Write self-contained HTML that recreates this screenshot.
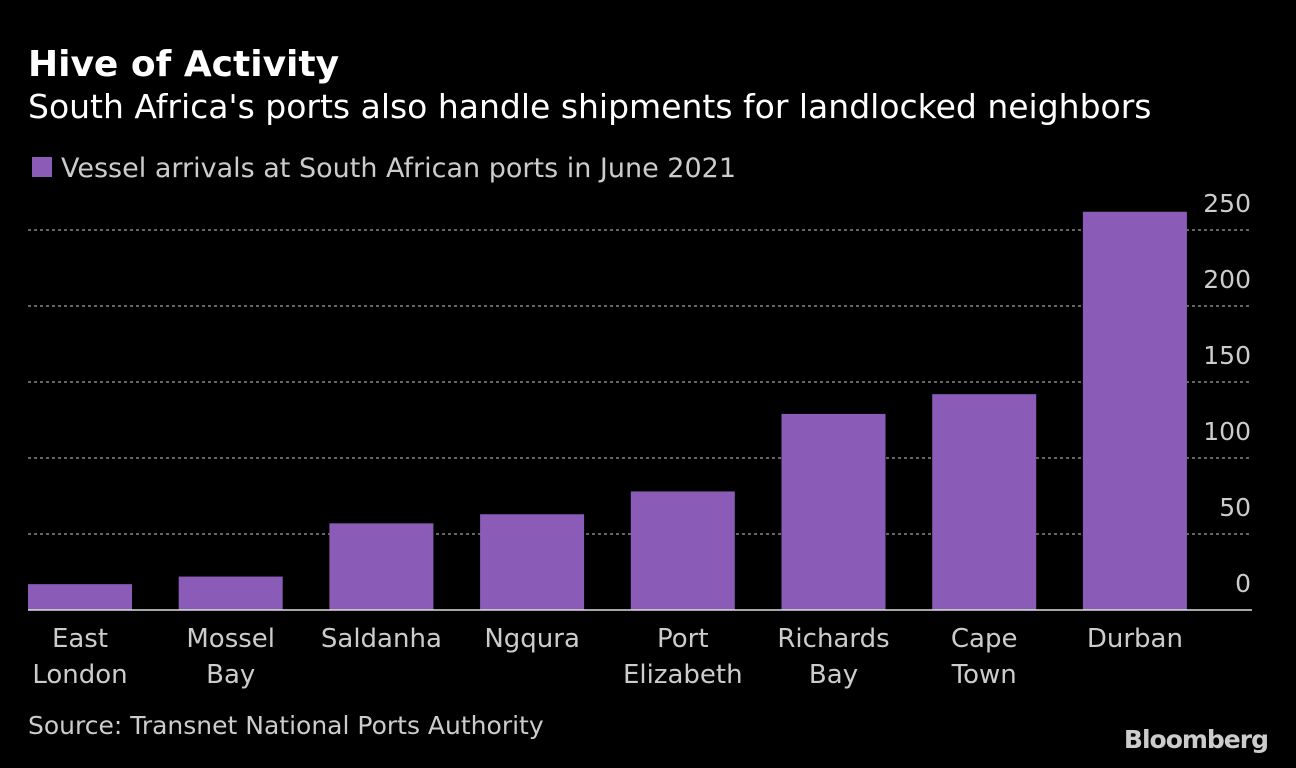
<!DOCTYPE html>
<html><head><meta charset="utf-8"><style>
body{margin:0;background:#000;width:1296px;height:764px;overflow:hidden;font-family:"DejaVu Sans",sans-serif;color:#fff}
</style></head><body>
<svg width="1296" height="764" font-family="DejaVu Sans, sans-serif" xmlns="http://www.w3.org/2000/svg">
<text x="28" y="76" font-size="36" font-weight="bold" fill="#fff">Hive of Activity</text>
<text x="28" y="118" font-size="33" fill="#fff">South Africa's ports also handle shipments for landlocked neighbors</text>
<rect x="32" y="157" width="20" height="20" fill="#8a5cb8"/>
<text x="61" y="177" font-size="27" fill="#ccc">Vessel arrivals at South African ports in June 2021</text>
<g id="grid"></g><g id="bars"></g><g id="xlabels"></g>
<line x1="28" y1="610" x2="1252" y2="610" stroke="#ddd" stroke-width="1.5"/>
<text x="28" y="734" font-size="25" fill="#ccc">Source: Transnet National Ports Authority</text>
<text x="1268" y="748" font-size="25" font-weight="bold" fill="#ccc" text-anchor="end" letter-spacing="-1">Bloomberg</text>
</svg>
<script>
const categories=[["East","London"],["Mossel","Bay"],["Saldanha"],["Ngqura"],["Port","Elizabeth"],["Richards","Bay"],["Cape","Town"],["Durban"]];
const values=[17,22,57,63,78,129,142,262];
const ticks=[0,50,100,150,200,250];
const NS="http://www.w3.org/2000/svg";
const y=v=>610-v*1.52;
const x=i=>28+i*150.7;
const bw=104;
const g=document.getElementById('grid'),b=document.getElementById('bars'),xl=document.getElementById('xlabels');
ticks.forEach(t=>{
  if(t>0){const l=document.createElementNS(NS,'line');
  l.setAttribute('x1',28);l.setAttribute('x2',1252);l.setAttribute('y1',y(t));l.setAttribute('y2',y(t));
  l.setAttribute('stroke','#888');l.setAttribute('stroke-dasharray','3,3');l.setAttribute('stroke-width','1.5');
  
  
  g.appendChild(l);}
  const tx=document.createElementNS(NS,'text');
  tx.setAttribute('x',1251);tx.setAttribute('y',y(t)-18);tx.setAttribute('text-anchor','end');
  tx.setAttribute('font-size','25');tx.setAttribute('fill','#ccc');tx.textContent=t;
  
  
  g.appendChild(tx);
});
values.forEach((v,i)=>{
  const r=document.createElementNS(NS,'rect');
  r.setAttribute('x',x(i));r.setAttribute('width',bw);r.setAttribute('y',y(v));r.setAttribute('height',610-y(v));
  r.setAttribute('fill','#8a5cb8');
  
  
  b.appendChild(r);
  categories[i].forEach((s,j)=>{
    const t=document.createElementNS(NS,'text');
    t.setAttribute('x',x(i)+bw/2);t.setAttribute('y',647+j*36);t.setAttribute('text-anchor','middle');
    t.setAttribute('font-size','26');t.setAttribute('fill','#ccc');t.textContent=s;
    
    
    xl.appendChild(t);
  });
});
</script>
</body></html>
